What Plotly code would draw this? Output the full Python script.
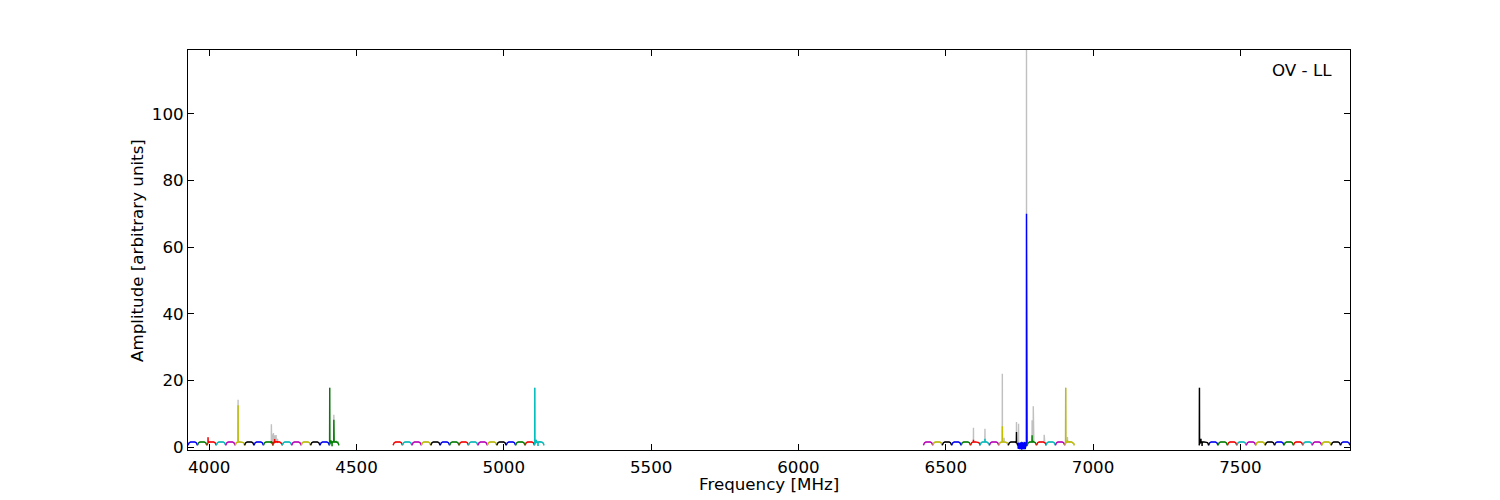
import numpy as np
import plotly.graph_objects as go

# ---------------- data ----------------
GROUP_STARTS = [3928, 4624, 6424, 7360]          # MHz, first frequency of each block of subbands
SUBBANDS_PER_GROUP = 16
SUBBAND_WIDTH = 32                               # MHz
COLOR_CYCLE = ["#0000ff", "#008000", "#ff0000", "#00bfbf", "#bf00bf", "#bfbf00", "#000000"]
GRAY = "#c0c0c0"

# typical bandpass arch of one subband (offset inside subband in MHz, amplitude)
ARCH_OFFSETS = [0, 1.5, 4, 9, 16, 23, 28, 30.5, 32]
ARCH_LEVELS = [0.5, 1.0, 1.3, 1.5, 1.55, 1.5, 1.3, 1.0, 0.5]

# noisy subband around the strongest line (1 MHz channels)
NOISY_START = 6744
NOISY_LEVELS = [0.4, 1.2, -0.5, 1.3, -0.6, 1.1, -0.4, 1.3, -0.7, 1.2, -0.5, 1.4, -0.6, 1.0,
                -0.8, 1.3, -0.5, 1.2, -0.6, 1.3, -0.4, 1.1, -0.7, 1.3, -0.5, 1.2, -0.6, 1.4,
                -0.3, 1.0, 0.2, 0.8, 0.4]

# narrow lines: frequency, height in colored (kept) data, height in gray (raw) data
SPIKE_FREQ = [3996, 4098, 4211, 4214, 4218, 4222, 4227, 4232, 4409, 4413, 4417, 4423, 4430, 4436,
              5105, 5110, 5116, 5122, 5130,
              6594, 6633, 6692, 6698, 6740, 6747, 6774, 6793, 6797, 6834, 6907, 6913, 6920,
              7361, 7366, 7370]
SPIKE_COLORED = [2.9, 12.5, 1.8, 1.5, 1.6, 2.4, 1.8, 1.5, 17.8, 2.0, 0.2, 8.2, 1.8, 1.6,
                 17.8, 2.2, 0.3, 1.8, 1.5,
                 2.2, 2.5, 6.2, 1.5, 4.5, 1.0, 70.0, 3.5, 1.8, 1.3, 17.8, 2.0, 1.5,
                 17.8, 2.5, 0.3]
SPIKE_GRAY = [2.9, 14.2, 6.8, 3.8, 4.2, 3.5, 3.6, 2.5, 17.8, 2.0, 0.2, 9.7, 1.8, 1.6,
              17.8, 2.2, 0.3, 1.8, 1.5,
              5.8, 5.5, 22.0, 2.8, 7.5, 7.0, 119.5, 8.0, 12.2, 3.7, 17.8, 3.0, 1.5,
              17.8, 2.5, 0.3]

PANEL_LABEL = "OV - LL"
X_TITLE = "Frequency [MHz]"
Y_TITLE = "Amplitude [arbitrary units]"
X_TICKS = [4000, 4500, 5000, 5500, 6000, 6500, 7000, 7500]
Y_TICKS = [0, 20, 40, 60, 80, 100]
X_RANGE = [3928, 7872]
Y_RANGE = [-0.9, 119.2]

# ---------------- build traces ----------------
color_x = {c: [] for c in COLOR_CYCLE}
color_y = {c: [] for c in COLOR_CYCLE}
gray_x, gray_y = [], []

k = 0
for g0 in GROUP_STARTS:
    for i in range(SUBBANDS_PER_GROUP):
        start = g0 + i * SUBBAND_WIDTH
        end = start + SUBBAND_WIDTH
        if start == NOISY_START:
            bx = [start + j for j in range(len(NOISY_LEVELS))]
            by = list(NOISY_LEVELS)
        else:
            bx = [start + o for o in ARCH_OFFSETS]
            by = list(ARCH_LEVELS)
        pts_c = list(zip(bx, by))
        pts_g = list(zip(bx, by))
        for f, hc, hg in zip(SPIKE_FREQ, SPIKE_COLORED, SPIKE_GRAY):
            if start <= f < end:
                base = float(np.interp(f, bx, by))
                for pts, h in ((pts_c, hc), (pts_g, hg)):
                    pts.append((f - 0.35, base))
                    pts.append((f, h))
                    pts.append((f + 0.35, base))
        pts_c.sort()
        pts_g.sort()
        col = COLOR_CYCLE[k % len(COLOR_CYCLE)]
        color_x[col] += [p[0] for p in pts_c] + [None]
        color_y[col] += [p[1] for p in pts_c] + [None]
        gray_x += [p[0] for p in pts_g] + [None]
        gray_y += [p[1] for p in pts_g] + [None]
        k += 1

fig = go.Figure()
fig.add_trace(go.Scatter(x=gray_x, y=gray_y, mode="lines",
                         line=dict(color=GRAY, width=1.4), hoverinfo="skip", showlegend=False))
for col in COLOR_CYCLE:
    fig.add_trace(go.Scatter(x=color_x[col], y=color_y[col], mode="lines",
                             line=dict(color=col, width=1.4), showlegend=False))

FONT = "DejaVu Sans"
FS = 16.7
axis_common = dict(showline=True, linecolor="black", linewidth=1, mirror="allticks",
                   ticks="inside", ticklen=6, tickcolor="black", tickwidth=1,
                   showgrid=False, zeroline=False,
                   tickfont=dict(family=FONT, size=FS, color="black"))

# the page body has an 8 px default margin, so the plot box is placed 8 px up/left
fig.update_layout(
    width=1500, height=500,
    paper_bgcolor="white", plot_bgcolor="white",
    margin=dict(l=180, r=158, t=42, b=58, autoexpand=False),
    font=dict(family=FONT, size=FS, color="black"),
    xaxis=dict(range=X_RANGE, tickvals=X_TICKS, ticktext=[str(v) for v in X_TICKS],
               ticklabelstandoff=2, **axis_common),
    yaxis=dict(range=Y_RANGE, tickvals=Y_TICKS, ticktext=[str(v) for v in Y_TICKS],
               ticklabelstandoff=0, **axis_common),
    annotations=[
        dict(text=PANEL_LABEL, xref="paper", yref="paper", x=0.986, y=0.95,
             xanchor="right", yanchor="middle", showarrow=False,
             font=dict(family=FONT, size=FS, color="black")),
        dict(text=X_TITLE, xref="paper", yref="paper", x=0.5, y=-0.0845,
             xanchor="center", yanchor="middle", showarrow=False,
             font=dict(family=FONT, size=FS, color="black")),
        dict(text=Y_TITLE, xref="paper", yref="paper", x=-0.0439, y=0.5, textangle=-90,
             xanchor="center", yanchor="middle", showarrow=False,
             font=dict(family=FONT, size=FS, color="black")),
    ],
)

fig.write_html("out.html")
